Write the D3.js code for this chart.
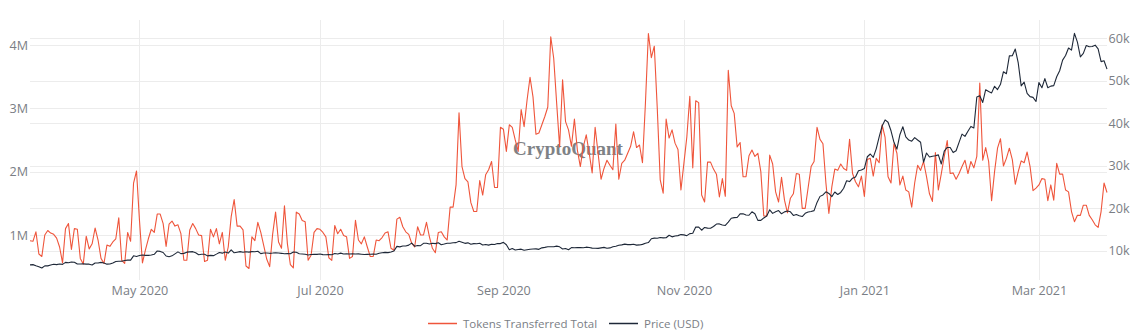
<!DOCTYPE html>
<html><head><meta charset="utf-8">
<script src="https://cdn.jsdelivr.net/npm/d3@7"></script>
<style>
html,body{margin:0;padding:0;background:#fff;}
svg{display:block;font-family:"Open Sans",sans-serif;}
</style></head><body>
<svg id="chart" width="1137" height="336"></svg>
<script>
// ---- data ----
const startDate = "2020-03-25";
// Tokens Transferred Total (millions), daily from 2020-03-25
const tokensTransferredM = [
0.91,0.90,1.05,0.70,0.66,1.00,1.07,1.03,1.01,0.95,0.81,0.56,1.10,1.18,0.77,1.10,1.09,0.63,0.54,0.98,
0.78,0.86,1.11,0.92,0.63,0.55,0.84,0.82,0.89,0.94,1.27,0.60,0.55,1.04,0.90,1.82,2.01,1.23,0.56,0.76,
0.94,1.09,1.04,1.33,1.33,1.18,0.82,1.17,1.22,1.14,1.16,1.02,0.60,0.60,
1.08,1.18,1.10,1.00,0.99,0.58,0.60,1.09,0.97,1.10,0.86,1.04,0.60,0.81,1.29,1.56,1.14,1.14,1.08,0.51,
0.47,0.97,0.91,1.20,1.04,0.83,0.62,0.50,1.01,1.36,0.89,0.79,1.46,0.86,0.53,0.48,1.36,1.33,1.23,1.21,
0.60,0.68,1.04,1.10,1.09,1.04,0.97,0.64,0.60,1.15,1.02,1.09,0.99,
0.97,0.63,0.66,1.23,0.92,0.86,0.97,0.81,0.66,0.66,0.92,0.91,0.96,1.03,1.05,0.79,0.76,1.25,1.28,1.13,
1.05,1.01,0.87,0.81,1.13,1.00,1.00,1.20,0.97,0.79,0.72,1.04,1.05,0.97,0.92,1.44,1.44,1.79,2.93,2.08,
1.89,1.84,1.51,1.37,1.37,1.86,1.63,1.95,2.03,2.16,1.75,1.75,
2.70,2.67,2.32,2.74,2.70,2.50,2.32,2.98,2.71,3.13,3.49,3.18,2.59,2.61,2.74,2.87,3.02,4.13,3.79,3.08,
2.39,3.45,2.79,2.66,2.40,2.83,2.34,2.08,2.39,2.58,2.29,1.98,2.70,2.29,1.88,2.05,2.18,2.10,2.03,2.75,
1.88,2.13,2.18,2.29,2.40,2.63,2.38,2.42,2.14,3.08,4.18,3.80,3.98,
3.00,1.87,1.66,2.83,2.53,2.66,2.45,2.35,1.71,2.13,2.55,3.19,2.06,3.12,3.09,1.63,1.52,2.15,2.15,2.04,
1.96,1.60,1.89,1.61,3.60,3.04,2.92,2.39,2.46,1.92,1.92,2.25,2.34,2.24,2.29,2.00,1.30,1.30,2.26,2.12,
1.68,1.52,1.91,1.55,1.35,1.58,1.65,1.97,1.96,1.42,1.42,1.75,
2.08,2.16,2.70,2.51,2.44,1.82,1.34,1.76,2.04,2.02,2.12,2.05,2.02,2.51,1.97,1.84,1.76,1.93,1.61,2.19,
2.21,1.93,2.21,2.14,2.74,2.54,1.92,1.82,2.44,2.29,1.79,1.93,1.71,1.68,1.44,1.82,2.10,2.02,2.16,1.92,
1.65,1.53,2.30,1.71,1.97,2.24,2.49,1.97,1.98,1.88,1.97,2.08,2.18,
1.97,2.16,2.06,2.24,3.40,2.18,2.38,2.16,1.54,2.00,2.37,2.52,2.09,2.21,2.37,2.19,1.80,2.00,2.17,2.14,
2.31,2.08,1.70,1.74,1.79,1.89,1.88,1.54,1.79,1.55,2.13,1.96,1.96,1.71,1.68,1.37,1.21,1.31,1.31,1.47,
1.47,1.31,1.24,1.16,1.12,1.37,1.82,1.67
];
// Price (USD, thousands), daily from 2020-03-25
const priceUsdK = [
6.68,6.73,6.47,6.24,5.92,6.43,6.44,
6.64,6.81,6.73,6.86,6.79,7.27,7.18,7.34,7.30,6.87,6.89,6.91,6.84,6.84,6.64,7.12,7.10,7.26,7.12,6.84,6.88,7.12,7.48,7.51,7.54,7.70,7.79,7.80,8.80,8.66,
8.86,8.99,8.90,8.91,9.01,9.16,9.95,9.84,9.59,8.76,8.60,8.80,9.27,9.73,9.32,9.38,9.67,9.73,9.78,9.51,9.06,9.17,9.18,8.79,8.90,8.84,9.20,9.58,9.43,9.70,9.45,
10.20,9.52,9.66,9.80,9.65,9.75,9.67,9.79,9.77,9.88,9.32,9.48,9.48,9.39,9.45,9.53,9.46,9.39,9.29,9.33,9.29,9.69,9.63,9.30,9.25,9.16,9.01,9.12,9.19,9.14,
9.23,9.09,9.06,9.13,9.07,9.34,9.25,9.44,9.24,9.29,9.24,9.30,9.24,9.26,9.19,9.13,9.15,9.17,9.21,9.16,9.39,9.54,9.61,9.55,9.70,9.93,11.03,10.91,11.10,11.11,11.32,
11.80,11.07,11.23,11.19,11.75,11.77,11.60,11.75,11.68,11.88,11.41,11.58,11.78,11.76,11.87,11.91,12.25,11.99,11.74,11.86,11.52,11.68,11.65,11.76,11.34,11.47,11.32,11.53,11.47,11.71,11.68,
11.97,11.41,10.25,10.51,10.17,10.28,10.37,10.13,10.24,10.36,10.40,10.44,10.33,10.68,10.79,10.95,10.94,10.93,11.08,10.92,10.42,10.54,10.24,10.74,10.69,10.73,10.78,10.70,10.84,10.78,
10.62,10.58,10.55,10.67,10.79,10.60,10.67,10.92,11.06,11.30,11.38,11.55,11.43,11.43,11.51,11.32,11.37,11.50,11.76,11.92,12.82,12.97,12.93,13.11,13.03,13.07,13.64,13.27,13.46,13.56,13.80,
13.74,13.55,14.03,14.13,15.58,15.57,14.83,15.48,15.33,15.30,15.70,16.28,16.32,16.07,15.96,16.73,17.66,17.80,17.82,18.68,18.71,18.42,18.36,19.17,18.72,17.15,17.14,17.72,18.18,19.63,
18.80,19.20,19.45,18.70,19.15,19.36,19.17,18.32,18.55,18.26,18.06,18.80,19.14,19.25,19.44,21.38,22.80,23.14,23.87,23.48,22.75,23.82,23.24,23.73,24.71,26.49,26.28,27.08,27.36,28.84,29.00,
29.37,32.13,32.78,31.97,33.99,36.82,39.37,40.80,40.25,38.24,35.54,33.92,37.32,39.19,36.83,36.07,35.79,36.63,36.07,35.55,30.83,33.01,32.08,32.26,32.36,32.57,30.43,33.47,34.32,34.32,33.11,
33.54,35.51,37.47,36.93,38.14,39.27,38.90,46.20,46.48,44.92,47.91,47.50,47.17,48.72,47.94,49.20,52.15,51.68,55.89,55.92,57.49,54.21,48.82,49.71,47.06,46.28,46.11,45.14,
49.63,48.38,50.54,48.37,48.76,48.88,50.97,52.38,54.88,55.96,57.75,57.23,61.19,59.12,55.65,56.46,58.33,58.03,58.10,58.41,57.52,54.53,54.74,52.77
];
const leftTicks = [1, 2, 3, 4];
const rightTicks = [10, 20, 30, 40, 50, 60];
const xTickDates = ["2020-05-01", "2020-07-01", "2020-09-01", "2020-11-01", "2021-01-01", "2021-03-01"];
const xTickLabels = ["May 2020", "Jul 2020", "Sep 2020", "Nov 2020", "Jan 2021", "Mar 2021"];
const seriesNames = ["Tokens Transferred Total", "Price (USD)"];
const seriesColors = ["#ef553b", "#1e2838"];

// ---- layout ----
const L = 30, R = 1107, T = 20, B = 280;
const svg = d3.select("#chart");
const parse = d3.utcParse("%Y-%m-%d");
const t0 = parse(startDate);
const dates = tokensTransferredM.map((_, i) => d3.utcDay.offset(t0, i));

const x = d3.scaleUtc().domain([dates[0], dates[dates.length - 1]]).range([L, R]);
const yL = d3.scaleLinear().domain([0.289, 4.394]).range([B, T]);
const yR = d3.scaleLinear().domain([3.11, 64.33]).range([B, T]);

const grid = svg.append("g").attr("stroke", "#ececec").attr("stroke-width", 1).attr("shape-rendering", "crispEdges");
xTickDates.forEach(d => {
  const xx = Math.round(x(parse(d))) + 0.5;
  grid.append("line").attr("x1", xx).attr("x2", xx).attr("y1", T).attr("y2", B);
});
leftTicks.forEach(v => {
  const yy = Math.round(yL(v)) + 0.5;
  grid.append("line").attr("x1", L).attr("x2", R).attr("y1", yy).attr("y2", yy);
});
rightTicks.forEach(v => {
  const yy = Math.round(yR(v)) + 0.5;
  grid.append("line").attr("x1", L).attr("x2", R).attr("y1", yy).attr("y2", yy);
});

const tickColor = "#7a7e85";
const axL = svg.append("g").attr("transform", `translate(${L},0)`)
  .call(d3.axisLeft(yL).tickValues(leftTicks).tickFormat(d => d + "M").tickSize(0).tickPadding(2));
const axR = svg.append("g").attr("transform", `translate(${R},0)`)
  .call(d3.axisRight(yR).tickValues(rightTicks).tickFormat(d => d + "k").tickSize(0).tickPadding(1.5));
const axB = svg.append("g").attr("transform", `translate(0,${B})`)
  .call(d3.axisBottom(x).tickValues(xTickDates.map(parse)).tickFormat((d, i) => xTickLabels[i]).tickSize(0).tickPadding(6.5));
[axL, axR, axB].forEach(a => {
  a.select(".domain").remove();
  a.selectAll("text").attr("fill", tickColor).attr("font-size", 12.6).attr("font-family", '"Open Sans", sans-serif');
});

// watermark
svg.append("text").attr("x", 568).attr("y", 155).attr("text-anchor", "middle")
  .attr("font-family", '"Liberation Serif", serif').attr("font-weight", "bold").attr("font-size", 19)
  .attr("fill", "#5f6368").attr("opacity", 0.8).text("CryptoQuant");

// lines
const lineTok = d3.line().x((d, i) => x(dates[i])).y(d => yL(d));
const linePrice = d3.line().x((d, i) => x(dates[i])).y(d => yR(d));
svg.append("path").datum(tokensTransferredM).attr("d", lineTok)
  .attr("fill", "none").attr("stroke", seriesColors[0]).attr("stroke-width", 1.1).attr("stroke-linejoin", "round");
svg.append("path").datum(priceUsdK).attr("d", linePrice)
  .attr("fill", "none").attr("stroke", seriesColors[1]).attr("stroke-width", 1.1).attr("stroke-linejoin", "round");

// legend
const legendItems = [{x: 428, name: seriesNames[0], color: seriesColors[0]}, {x: 609, name: seriesNames[1], color: seriesColors[1]}];
legendItems.forEach(it => {
  const g = svg.append("g").attr("transform", `translate(${it.x},323)`);
  g.append("line").attr("x1", 0).attr("x2", 29).attr("y1", 0.5).attr("y2", 0.5).attr("stroke", it.color).attr("stroke-width", 1.5);
  g.append("text").attr("x", 35).attr("y", 4.5).attr("fill", tickColor).attr("font-size", 11.5).text(it.name);
});
</script>
</body></html>
